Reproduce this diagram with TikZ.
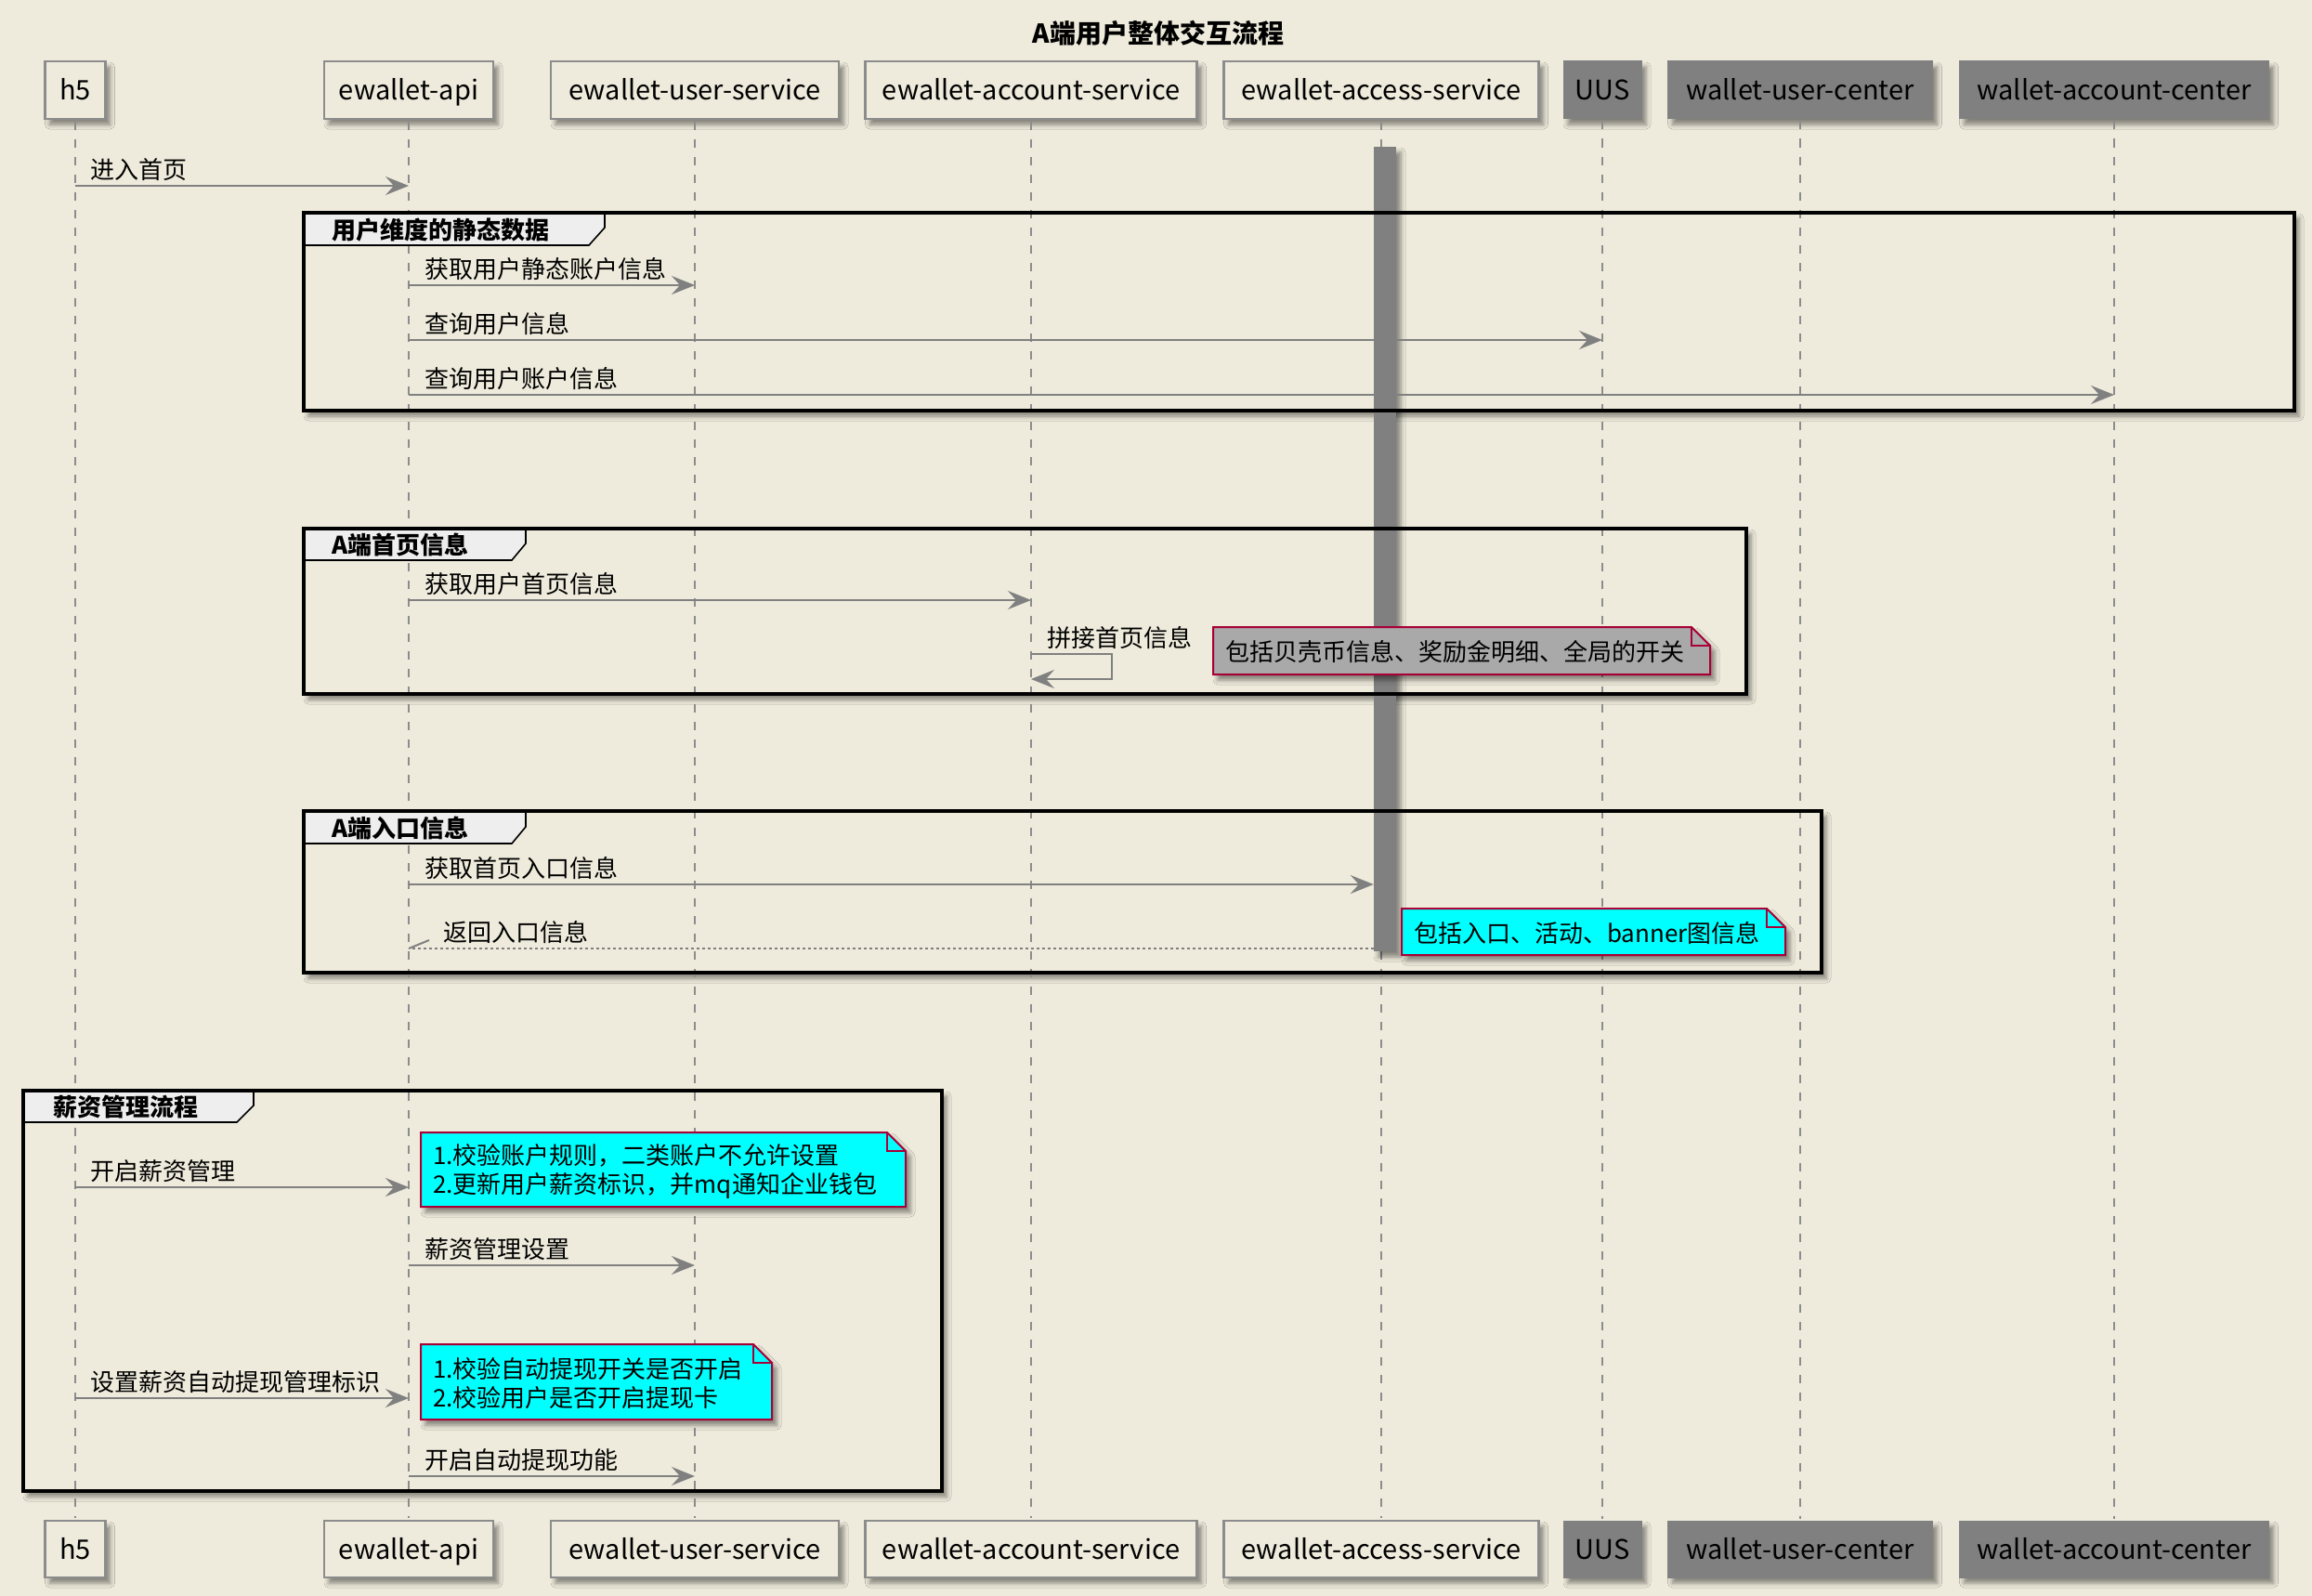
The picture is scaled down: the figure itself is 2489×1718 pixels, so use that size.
\documentclass[tikz,border=0pt]{standalone}
\usepackage{fontspec}
\setmainfont{Noto Sans CJK SC}
\usetikzlibrary{shadows.blur,arrows.meta}
\definecolor{bgc}{HTML}{EEEBDC}
\definecolor{pgray}{HTML}{808080}
\definecolor{lgray}{HTML}{8C8C8C}
\definecolor{tabc}{HTML}{EEEEEE}
\definecolor{notegray}{HTML}{A9A9A9}
\definecolor{notecyan}{HTML}{00FFFF}
\definecolor{noteborder}{HTML}{A80036}
\tikzset{
  shd/.style={blur shadow={shadow xshift=5pt,shadow yshift=-6pt,shadow blur radius=5pt,shadow opacity=45}},
  pbox/.style={draw=lgray,line width=2.5pt,fill=bgc,minimum height=62pt,inner sep=0pt,text height=26pt,text depth=4pt,shd,font=\fontsize{29}{32}\selectfont},
  gbox/.style={draw=pgray,line width=1pt,fill=pgray,minimum height=62pt,inner sep=0pt,text height=26pt,text depth=4pt,shd,font=\fontsize{29}{32}\selectfont},
  lifeline/.style={draw=lgray,line width=1.6pt,dash pattern=on 9pt off 10pt},
  msg/.style={draw=pgray,line width=2pt,-{Stealth[length=25pt,width=20pt,inset=9pt]}},
  retmsg/.style={draw=pgray,line width=2pt,dash pattern=on 3pt off 3pt},
  mtext/.style={anchor=base west,inner sep=0pt,font=\fontsize{26}{31}\selectfont},
  ntext/.style={anchor=west,inner sep=0pt,align=left,font=\fontsize{26}{31}\selectfont},
  glabel/.style={anchor=west,inner sep=0pt,font=\bfseries\fontsize{26}{31}\selectfont},
  frameline/.style={draw=black,line width=3.5pt},
  tabshape/.style={draw=black,line width=1.6pt,fill=tabc},
  notebox/.style={draw=noteborder,line width=2pt,shd},
  act/.style={fill=pgray,draw=none,minimum width=24pt,minimum height=866pt,inner sep=0pt,shd}
}
\begin{document}
\begin{tikzpicture}[x=1pt,y=-1pt]
\fill[bgc] (0,0) rectangle (2489,1718);
\useasboundingbox (0,0) rectangle (2489,1718);

% title
\node[inner sep=0pt,font=\bfseries\fontsize{28}{32}\selectfont] (title) at (1247,36) {A端用户整体交互流程};

% group frames: fill + shadow
\fill[bgc,shd] (327,229) rectangle (2470,442);
\fill[bgc,shd] (327,569) rectangle (1880,747);
\fill[bgc,shd] (327,873) rectangle (1961,1047);
\fill[bgc,shd] (25,1174) rectangle (1014,1605);

% participants top
\node[pbox,minimum width=65pt] (h5) at (81,97) {h5};
\node[pbox,minimum width=182pt] (api) at (440,97) {ewallet-api};
\node[pbox,minimum width=310pt] (usr) at (748,97) {ewallet-user-service};
\node[pbox,minimum width=357pt] (acc) at (1110,97) {ewallet-account-service};
\node[pbox,minimum width=339pt] (acs) at (1487,97) {ewallet-access-service};
\node[gbox,minimum width=84pt] (uus) at (1725,97) {UUS};
\node[gbox,minimum width=285pt] (wuc) at (1938,97) {wallet-user-center};
\node[gbox,minimum width=333pt] (wac) at (2276,97) {wallet-account-center};

% participants bottom
\node[pbox,minimum width=65pt,minimum height=61pt] (h5b) at (81,1667.5) {h5};
\node[pbox,minimum width=182pt,minimum height=61pt] (apib) at (440,1667.5) {ewallet-api};
\node[pbox,minimum width=310pt,minimum height=61pt] (usrb) at (748,1667.5) {ewallet-user-service};
\node[pbox,minimum width=357pt,minimum height=61pt] (accb) at (1110,1667.5) {ewallet-account-service};
\node[pbox,minimum width=339pt,minimum height=61pt] (acsb) at (1487,1667.5) {ewallet-access-service};
\node[gbox,minimum width=84pt,minimum height=61pt] (uusb) at (1725,1667.5) {UUS};
\node[gbox,minimum width=285pt,minimum height=61pt] (wucb) at (1938,1667.5) {wallet-user-center};
\node[gbox,minimum width=333pt,minimum height=61pt] (wacb) at (2276,1667.5) {wallet-account-center};

% lifelines
\foreach \a/\b in {h5/h5b,api/apib,usr/usrb,acc/accb,acs/acsb,uus/uusb,wuc/wucb,wac/wacb}
  \draw[lifeline] ([yshift=-2pt]\a.south) -- ([yshift=2pt]\b.north);

% activation bar
\node[act] (bar) at (1491,591) {};

% messages
\draw[msg] (h5.south |- 0,200) -- (api.south |- 0,200);
\node[mtext] (m1) at (97,192) {进入首页};

\draw[msg] (api.south |- 0,307) -- (usr.south |- 0,307);
\node[mtext] (m2) at (457,299) {获取用户静态账户信息};

\draw[msg] (api.south |- 0,366) -- (uus.south |- 0,366);
\node[mtext] (m3) at (457,358) {查询用户信息};

\draw[msg] (api.south |- 0,425) -- (wac.south |- 0,425);
\node[mtext] (m4) at (457,417) {查询用户账户信息};

\draw[msg] (api.south |- 0,646) -- (acc.south |- 0,646);
\node[mtext] (m5) at (457,638) {获取用户首页信息};

\draw[msg] (acc.south |- 0,704) -- ++(87,0) -- ++(0,27) -- (acc.south |- 0,731);
\node[mtext] (m6) at (1127,696) {拼接首页信息};

\draw[msg] (api.south |- 0,952) -- (bar.west |- 0,952);
\node[mtext] (m7) at (457,944) {获取首页入口信息};

\coordinate (rettip) at (api.south |- 0,1021);
\draw[retmsg] (bar.west |- 0,1021) -- (rettip);
\draw[draw=pgray,line width=2pt] (rettip) -- ++(22,-9);
\node[mtext] (m8) at (477,1013) {返回入口信息};

\draw[msg] (h5.south |- 0,1278) -- (api.south |- 0,1278);
\node[mtext] (m9) at (97,1270) {开启薪资管理};

\draw[msg] (api.south |- 0,1362) -- (usr.south |- 0,1362);
\node[mtext] (m10) at (457,1354) {薪资管理设置};

\draw[msg] (h5.south |- 0,1505) -- (api.south |- 0,1505);
\node[mtext] (m11) at (97,1497) {设置薪资自动提现管理标识};

\draw[msg] (api.south |- 0,1589) -- (usr.south |- 0,1589);
\node[mtext] (m12) at (457,1581) {开启自动提现功能};

% notes
\filldraw[notebox,fill=notegray] (1306,675) -- (1821,675) -- (1841,695) -- (1841,726) -- (1306,726) -- cycle;
\draw[draw=noteborder,line width=2pt] (1821,675) -- (1821,695) -- (1841,695);
\node[ntext] (n1) at (1319,702) {包括贝壳币信息、奖励金明细、全局的开关};

\filldraw[notebox,fill=notecyan] (1509,978) -- (1902,978) -- (1922,998) -- (1922,1028) -- (1509,1028) -- cycle;
\draw[draw=noteborder,line width=2pt] (1902,978) -- (1902,998) -- (1922,998);
\node[ntext] (n2) at (1522,1005) {包括入口、活动、banner图信息};

\filldraw[notebox,fill=notecyan] (453,1219) -- (955,1219) -- (975,1239) -- (975,1299) -- (453,1299) -- cycle;
\draw[draw=noteborder,line width=2pt] (955,1219) -- (955,1239) -- (975,1239);
\node[ntext] (n3) at (466,1261) {1.校验账户规则，二类账户不允许设置\\2.更新用户薪资标识，并mq通知企业钱包};

\filldraw[notebox,fill=notecyan] (453,1447) -- (811,1447) -- (831,1467) -- (831,1528) -- (453,1528) -- cycle;
\draw[draw=noteborder,line width=2pt] (811,1447) -- (811,1467) -- (831,1467);
\node[ntext] (n4) at (466,1489) {1.校验自动提现开关是否开启\\2.校验用户是否开启提现卡};

% group frames: tabs and borders
\filldraw[tabshape] (327,229) -- (651,229) -- (651,245) -- (634,264) -- (327,264) -- cycle;
\draw[frameline] (327,229) rectangle (2470,442);
\node[glabel] (g1) at (357,248) {用户维度的静态数据};

\filldraw[tabshape] (327,569) -- (566,569) -- (566,585) -- (551,603) -- (327,603) -- cycle;
\draw[frameline] (327,569) rectangle (1880,747);
\node[glabel] (g2) at (357,587) {A端首页信息};

\filldraw[tabshape] (327,873) -- (566,873) -- (566,890) -- (551,908) -- (327,908) -- cycle;
\draw[frameline] (327,873) rectangle (1961,1047);
\node[glabel] (g3) at (357,892) {A端入口信息};

\filldraw[tabshape] (25,1174) -- (273,1174) -- (273,1190) -- (255,1208) -- (25,1208) -- cycle;
\draw[frameline] (25,1174) rectangle (1014,1605);
\node[glabel] (g4) at (57,1192) {薪资管理流程};
\end{tikzpicture}
\end{document}
